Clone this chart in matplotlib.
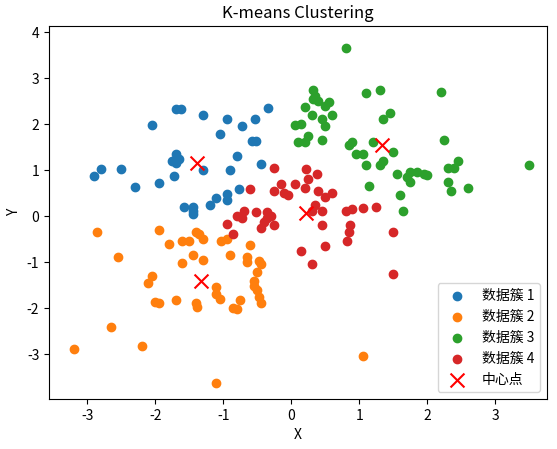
import matplotlib
matplotlib.use("Agg")
import matplotlib.pyplot as plt

plt.rcParams['font.family'] = ['Noto Sans CJK SC', 'DejaVu Sans']
plt.rcParams['axes.unicode_minus'] = False

labels = ["数据簇 1", "数据簇 2", "数据簇 3", "数据簇 4"]
colors = ["#1f77b4", "#ff7f0e", "#2ca02c", "#d62728"]

c1_x = [-2.9, -2.8, -2.5, -2.3, -2.05, -1.95, -1.75, -1.7, -1.7, -1.65, -1.7, -1.62, -1.72, -1.58,
        -1.45, -1.45, -1.45, -1.3, -1.3, -1.2, -1.1, -1.05, -0.95, -0.95, -0.95, -0.9, -0.8,
        -0.72, -0.53, -0.57, -0.51, -0.44, -0.34, -0.76]
c1_y = [0.88, 1.02, 1.02, 0.63, 1.97, 0.72, 1.2, 1.35, 1.15, 1.25, 2.33, 2.33, 0.87, 0.2,
        0.2, 0.05, 0.1, 2.2, 1.0, 0.25, 0.4, 1.78, 2.12, 0.47, 0.35, 1.0, 1.3,
        1.96, 2.1, 1.63, 1.63, 1.13, 2.35, 0.59]
c2_x = [-3.2, -2.85, -2.65, -2.55, -2.2, -2.1, -2.05, -2.0, -1.95, -1.95, -1.8, -1.7, -1.6, -1.6,
        -1.5, -1.45, -1.4, -1.38, -1.4, -1.35, -1.3, -1.3, -1.1, -1.1, -1.1, -1.05, -0.95, -0.9,
        -0.85, -0.8, -0.75, -0.65, -0.6, -0.55, -0.55, -0.5, -0.5, -0.48, -0.45, -0.45, -0.47,
        1.05, -1.03, -0.65]
c2_y = [-2.9, -0.35, -2.42, -0.9, -2.83, -1.45, -1.3, -1.87, -1.9, -0.3, -0.6, -1.83, -0.55, -1.02,
        -0.55, -0.85, -1.88, -1.98, -0.35, -0.4, -0.5, -0.95, -3.62, -1.55, -1.7, -1.8, -0.5, -0.85,
        -2.0, -2.03, -1.82, -1.0, -0.62, -1.52, -1.42, -1.22, -1.6, -1.75, -1.9, -1.05, -0.98,
        -3.05, -0.55, -0.9]
c3_x = [0.8, 0.05, 0.15, 0.2, 0.3, 0.32, 0.35, 0.4, 0.1, 0.2, 0.25, 0.45, 0.5, 0.55, 0.32, 0.6,
        0.45, 0.5, 0.85, 0.9, 0.95, 1.05, 1.1, 1.3, 1.35, 1.45, 1.35, 1.1, 1.2, 1.5, 1.6, 1.55,
        1.65, 1.7, 1.75, 1.85, 1.95, 2.0, 2.2, 2.25, 2.3, 2.3, 2.35, 2.45, 2.4, 2.6, 3.5, 1.15,
        1.3, 1.75]
c3_y = [3.65, 1.97, 2.0, 2.38, 2.2, 2.55, 2.6, 2.5, 1.6, 1.6, 1.75, 2.1, 2.4, 2.47, 2.75, 2.2,
        1.65, 1.95, 1.55, 1.6, 1.35, 1.35, 2.67, 2.75, 2.1, 2.25, 1.2, 1.1, 1.6, 1.4, 0.45, 0.92,
        0.12, 0.85, 0.95, 0.95, 0.92, 0.9, 2.7, 1.65, 1.05, 0.75, 0.55, 1.2, 1.05, 0.62, 1.12, 0.65,
        1.12, 0.75]
c4_x = [-0.4, -0.3, -0.25, -0.35, -0.35, -0.45, -0.52, -0.6, -0.7, -0.8, -0.85, -0.95, -0.73,
        -0.25, -0.25, -0.05, -0.1, 0.05, 0.15, 0.2, 0.25, 0.22, 0.3, 0.35, 0.4, 0.45, 0.45, 0.5,
        0.5, 0.3, 0.8, 0.85, 0.87, 0.9, 0.82, 1.05, 1.25, 1.5, 1.5, 0.6, 0.38, -0.15]
c4_y = [-0.12, 0.0, -0.2, 0.08, -0.05, -0.25, 0.08, 0.58, 0.12, 0.0, -0.38, -0.18, -0.05,
        0.55, 1.04, 0.45, 0.5, 0.7, -0.75, 0.6, 0.8, 1.02, 0.1, 0.25, 0.55, -0.2, 0.1, 0.42,
        -0.65, -1.05, 0.1, -0.35, -0.2, 0.15, -0.55, 0.18, 0.2, -0.35, -1.27, 0.5, 0.91, 0.7]
cent_x = [-1.38, -1.32, 1.33, 0.22]
cent_y = [1.15, -1.42, 1.55, 0.06]

fig = plt.figure(figsize=(5.57, 4.49), dpi=100)
ax = fig.add_axes([0.088, 0.111, 0.894, 0.831])

for xs, ys, c, lab in zip([c1_x, c2_x, c3_x, c4_x], [c1_y, c2_y, c3_y, c4_y], colors, labels):
    ax.scatter(xs, ys, color=c, s=36, label=lab)
ax.scatter(cent_x, cent_y, color="red", marker="x", s=100, label="中心点")

ax.set_xlim(-3.56, 3.76)
ax.set_ylim(-3.98, 4.13)
ax.set_title("K-means Clustering")
ax.set_xlabel("X")
ax.set_ylabel("Y")
ax.legend(loc="lower right")

fig.savefig("out.png", dpi=100)
